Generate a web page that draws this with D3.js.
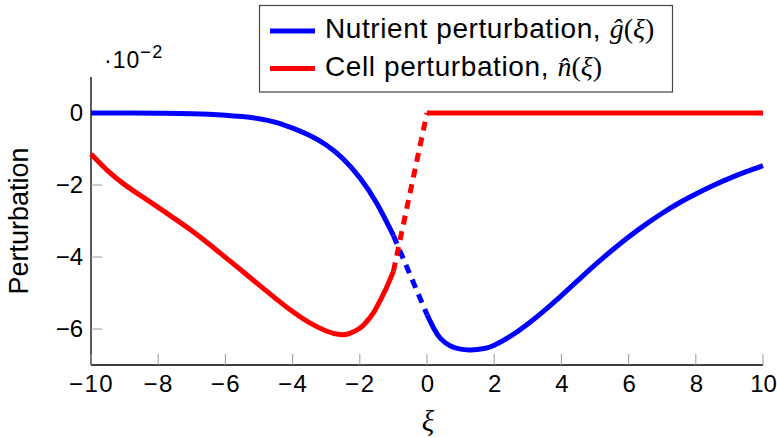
<!DOCTYPE html>
<html>
<head>
<meta charset="utf-8">
<script src="https://cdn.jsdelivr.net/npm/d3@7"></script>
<style>
  html, body { margin: 0; padding: 0; background: #fff; }
  svg { display: block; }
</style>
</head>
<body>
<svg id="chart" width="777" height="438"></svg>
<script>
// ---- data (values in units of 10^-2) ----
const xTicks = [-10, -8, -6, -4, -2, 0, 2, 4, 6, 8, 10];
const yTicks = [0, -2, -4, -6];

// left branch (xi <= -1)
const xiLeft = [-10, -9.5, -9, -8.5, -8, -7.5, -7, -6.5, -6, -5.5, -5, -4.5, -4, -3.5, -3, -2.6, -2.3, -2.0, -1.8, -1.6, -1.4, -1.2, -1.0];
const nLeft  = [-1.14, -1.61, -1.99, -2.31, -2.62, -2.94, -3.27, -3.63, -4.01, -4.39, -4.775, -5.155, -5.515, -5.825, -6.055, -6.155, -6.12, -5.98, -5.80, -5.56, -5.22, -4.84, -4.40];
const gLeftX = [-10, -9, -8, -7, -6.5, -6, -5.5, -5, -4.5, -4, -3.5, -3, -2.5, -2, -1.5, -1.0];
const gLeft  = [0, 0, -0.005, -0.02, -0.035, -0.06, -0.10, -0.16, -0.26, -0.42, -0.62, -0.89, -1.27, -1.80, -2.50, -3.40];

// bridge (-1 < xi < 0), dashed
const xiBridge = [-1, 0];
const nBridge  = [-4.40, 0];
const gBridge  = [-3.40, -5.60];

// right branch (xi >= 0)
const xiRight = [0, 0.2, 0.4, 0.7, 1.0, 1.3, 1.7, 2.0, 2.5, 3, 3.5, 4, 4.5, 5, 5.5, 6, 6.5, 7, 7.5, 8, 8.5, 9, 9.5, 10];
const gRight  = [-5.60, -5.98, -6.26, -6.47, -6.56, -6.58, -6.54, -6.45, -6.19, -5.86, -5.48, -5.07, -4.645, -4.22, -3.82, -3.445, -3.10, -2.785, -2.50, -2.25, -2.02, -1.815, -1.63, -1.46];
const nRightX = [0, 10];
const nRight  = [0, 0];

const legendLabels = ["Nutrient perturbation, ", "Cell perturbation, "];
const legendMath = [["ĝ", "ξ"], ["n̂", "ξ"]];

// ---- drawing ----
const svg = d3.select("#chart");
const x = d3.scaleLinear().domain([-10, 10]).range([91, 763]);
const y = d3.scaleLinear().domain([-7, 1]).range([365, 77]);

const BLUE = "#0000ff", RED = "#ff0000";
const sans = "'Liberation Sans', Arial, sans-serif";
const serif = "'Liberation Serif', 'Times New Roman', serif";

// axes
const xAxis = d3.axisBottom(x).tickValues(xTicks).tickSize(0).tickPadding(10)
  .tickFormat(d => d < 0 ? "\u2212" + Math.abs(d) : String(d));
const gx = svg.append("g").attr("transform", `translate(0,${y(-7)})`).call(xAxis);
gx.select(".domain").attr("stroke", "#000").attr("stroke-width", 1.3).attr("d", `M${x(-10)},0H${x(10)}`);
gx.selectAll("text").attr("font-family", sans).attr("font-size", 24).attr("fill", "#000")
  .attr("letter-spacing", d => d < 0 ? 1.5 : 0);

const yAxis = d3.axisLeft(y).tickValues(yTicks).tickSize(0).tickPadding(8)
  .tickFormat(d => d < 0 ? "\u2212" + Math.abs(d) : String(d));
const gy = svg.append("g").attr("transform", `translate(${x(-10)},0)`).call(yAxis);
gy.select(".domain").attr("stroke", "#000").attr("stroke-width", 1.3).attr("d", `M0,${y(1)}V${y(-7)}`);
gy.selectAll("text").attr("font-family", sans).attr("font-size", 24).attr("fill", "#000");

// inward tick marks
svg.append("g").selectAll("line").data(xTicks).join("line")
  .attr("x1", d => x(d)).attr("x2", d => x(d))
  .attr("y1", y(-7)).attr("y2", y(-7) - 11)
  .attr("stroke", "#9a9a9a").attr("stroke-width", 1);
svg.append("g").selectAll("line").data(yTicks).join("line")
  .attr("x1", x(-10)).attr("x2", x(-10) + 11)
  .attr("y1", d => y(d)).attr("y2", d => y(d))
  .attr("stroke", "#9a9a9a").attr("stroke-width", 1);

// curves
const smooth = d3.line().x(d => x(d[0])).y(d => y(d[1])).curve(d3.curveNatural);
const straight = d3.line().x(d => x(d[0])).y(d => y(d[1]));
const zip = (a, b) => a.map((v, i) => [v, b[i]]);

function draw(pts, color, gen, dashed) {
  svg.append("path").attr("d", gen(pts)).attr("fill", "none")
    .attr("stroke", color).attr("stroke-width", 5)
    .attr("stroke-dasharray", dashed ? "9,7" : null);
}
draw(zip(gLeftX, gLeft), BLUE, smooth, false);
draw(zip(xiRight, gRight), BLUE, smooth, false);
draw(zip(xiBridge, gBridge), BLUE, straight, true);
draw(zip(xiLeft, nLeft), RED, smooth, false);
draw(zip(xiBridge, nBridge), RED, straight, true);
draw(zip(nRightX, nRight), RED, straight, false);

// scale label ·10^-2
const sc = svg.append("text").attr("x", 104).attr("y", 68)
  .attr("font-family", sans).attr("font-size", 23).attr("fill", "#000");
sc.append("tspan").attr("letter-spacing", 1).text("\u00b710");
sc.append("tspan").attr("dy", -10).attr("font-size", 18).attr("letter-spacing", 1.5).text("\u22122");

// axis labels
svg.append("text").attr("x", 428).attr("y", 431).attr("text-anchor", "middle")
  .attr("font-family", serif).attr("font-style", "italic").attr("font-size", 29)
  .attr("fill", "#000").text("ξ");
svg.append("text").attr("transform", `translate(28,${y(-3)}) rotate(-90)`)
  .attr("text-anchor", "middle").attr("font-family", sans).attr("font-size", 27)
  .attr("fill", "#000").text("Perturbation");

// legend
const lg = svg.append("g");
lg.append("rect").attr("x", 259.5).attr("y", 5.5).attr("width", 413).attr("height", 86.5)
  .attr("fill", "#fff").attr("stroke", "#444").attr("stroke-width", 1.2);
const rows = [{c: BLUE, yl: 31, yt: 38}, {c: RED, yl: 68.5, yt: 76}];
rows.forEach((r, i) => {
  lg.append("line").attr("x1", 270).attr("x2", 315).attr("y1", r.yl).attr("y2", r.yl)
    .attr("stroke", r.c).attr("stroke-width", 5);
  const t = lg.append("text").attr("x", 325).attr("y", r.yt)
    .attr("font-family", sans).attr("font-size", 28).attr("fill", "#000");
  t.append("tspan").attr("letter-spacing", 0.6).text(legendLabels[i]);
  t.append("tspan").attr("font-family", serif).attr("font-style", "italic").text(legendMath[i][0]);
  t.append("tspan").attr("font-family", serif).text("(");
  t.append("tspan").attr("font-family", serif).attr("font-style", "italic").text(legendMath[i][1]);
  t.append("tspan").attr("font-family", serif).text(")");
});
</script>
</body>
</html>
